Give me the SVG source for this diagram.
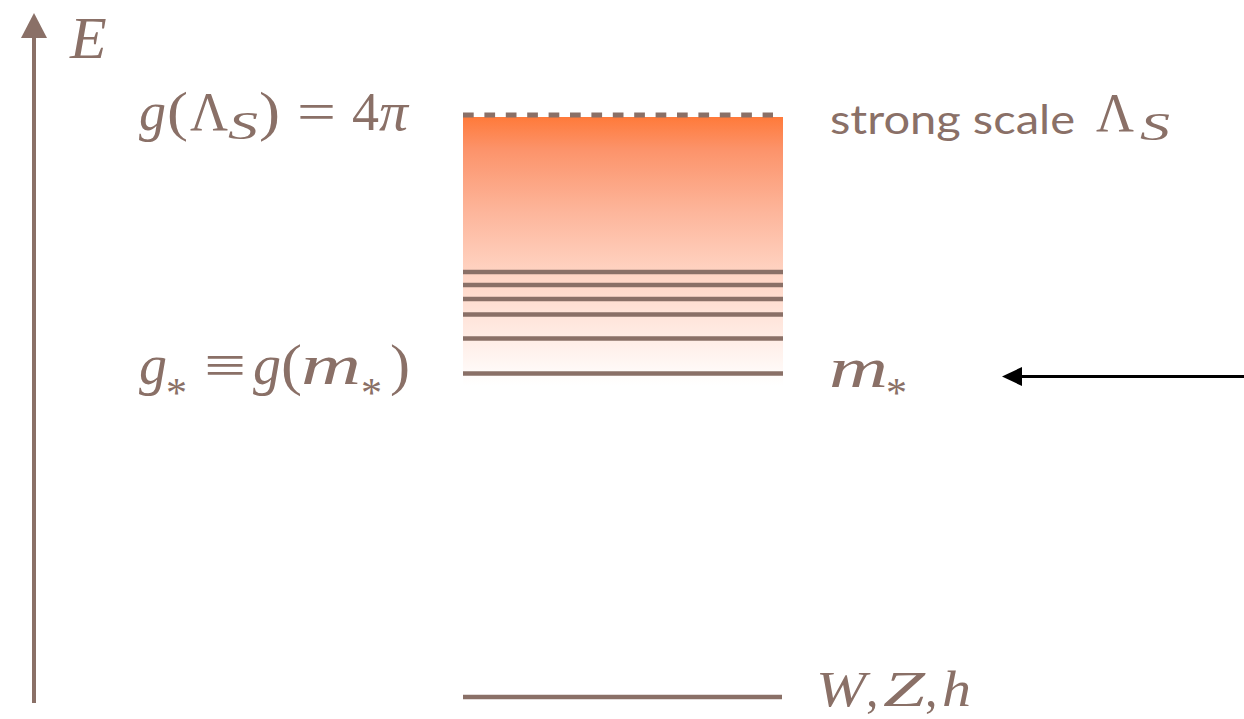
<svg xmlns="http://www.w3.org/2000/svg" width="1244" height="719" viewBox="0 0 1244 719">
<defs>
<style>
text{font-family:"Liberation Serif","DejaVu Serif",serif;fill:#8a7067}
.i{font-style:italic}
.lv{stroke:#8a7067;stroke-width:4.5;fill:none}
.sans{font-family:Lato,"DejaVu Sans",sans-serif;font-size:40px}
</style>
<linearGradient id="grad" x1="0" y1="0" x2="0" y2="1">
<stop offset="0" stop-color="#ff7a3a"/>
<stop offset="0.12" stop-color="#fc936a"/>
<stop offset="0.35" stop-color="#fdb59a"/>
<stop offset="0.6" stop-color="#ffd6c6"/>
<stop offset="0.8" stop-color="#ffeae2"/>
<stop offset="1" stop-color="#ffffff"/>
</linearGradient>
</defs>
<rect width="1244" height="719" fill="#ffffff"/>

<g id="axis">
<line x1="34" y1="703" x2="34" y2="36" stroke="#8a7067" stroke-width="4"/>
<polygon points="34,13 21,38 47,38" fill="#8a7067"/>
<text class="i" x="70" y="58" font-size="60">E</text>
</g>

<g id="band">
<rect x="463" y="117" width="320" height="268" fill="url(#grad)"/>
<line x1="463" y1="115" x2="773" y2="115" stroke="#8a7067" stroke-width="5" stroke-dasharray="10.7 10.7"/>
<line class="lv" x1="463" y1="272" x2="783" y2="272"/>
<line class="lv" x1="463" y1="285" x2="783" y2="285"/>
<line class="lv" x1="463" y1="299" x2="783" y2="299"/>
<line class="lv" x1="463" y1="314.5" x2="783" y2="314.5"/>
<line class="lv" x1="463" y1="338.5" x2="783" y2="338.5"/>
<line class="lv" x1="463" y1="373.5" x2="783" y2="373.5"/>
</g>

<g id="ewsb">
<line class="lv" x1="463" y1="697" x2="782" y2="697"/>
<text class="i" x="816" y="706" font-size="50" textLength="50" lengthAdjust="spacingAndGlyphs">W</text>
<text x="866" y="706" font-size="50">,</text>
<text class="i" x="883" y="706" font-size="50" textLength="42" lengthAdjust="spacingAndGlyphs">Z</text>
<text x="925" y="706" font-size="50">,</text>
<text class="i" x="942" y="706" font-size="50" textLength="29" lengthAdjust="spacingAndGlyphs">h</text>
</g>

<g id="label-strong-left" font-size="54">
<text class="i" x="139" y="130">g</text>
<text x="167" y="130" textLength="21" lengthAdjust="spacingAndGlyphs">(</text>
<text x="190" y="130" textLength="38" lengthAdjust="spacingAndGlyphs">Λ</text>
<text class="i" x="228" y="139" font-size="40" textLength="30" lengthAdjust="spacingAndGlyphs">S</text>
<text x="259" y="130" textLength="21" lengthAdjust="spacingAndGlyphs">)</text>
<text x="297" y="130" textLength="39" lengthAdjust="spacingAndGlyphs">=</text>
<text x="352" y="130">4</text>
<text class="i" x="379" y="130" textLength="29" lengthAdjust="spacingAndGlyphs">π</text>
</g>

<g id="label-strong-right">
<text class="sans" x="830" y="134" textLength="245" lengthAdjust="spacingAndGlyphs">strong scale</text>
<text x="1096" y="131" font-size="54" textLength="38" lengthAdjust="spacingAndGlyphs">Λ</text>
<text class="i" x="1140" y="140" font-size="40" textLength="30" lengthAdjust="spacingAndGlyphs">S</text>
</g>

<g id="label-mstar-left" font-size="56">
<text class="i" x="139" y="384">g</text>
<text x="166" y="407" font-size="42">*</text>
<text x="204" y="384" textLength="42" lengthAdjust="spacingAndGlyphs">≡</text>
<text class="i" x="253" y="384">g</text>
<text x="281" y="384" textLength="21" lengthAdjust="spacingAndGlyphs">(</text>
<text class="i" x="301" y="384" textLength="60" lengthAdjust="spacingAndGlyphs">m</text>
<text x="361" y="407" font-size="42">*</text>
<text x="390" y="384" textLength="20" lengthAdjust="spacingAndGlyphs">)</text>
</g>

<g id="label-mstar-right" font-size="56">
<text class="i" x="829" y="387" textLength="59" lengthAdjust="spacingAndGlyphs">m</text>
<text x="886" y="407" font-size="42">*</text>
</g>

<g id="connectors">
<line x1="1244" y1="376.5" x2="1018" y2="376.5" stroke="#000000" stroke-width="3"/>
<polygon points="1002,376.5 1022,367 1022,386" fill="#000000"/>
</g>
</svg>
